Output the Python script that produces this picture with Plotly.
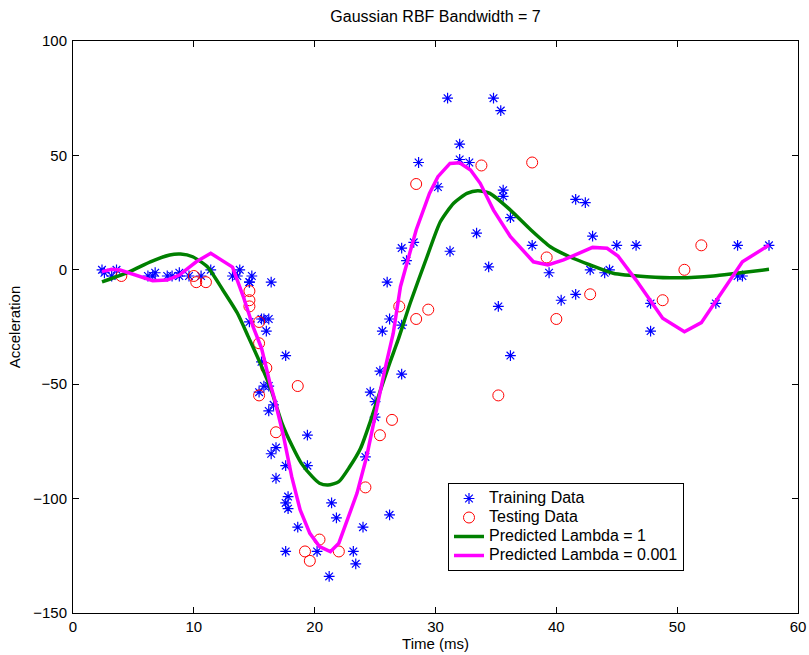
import plotly.graph_objects as go

# Training data (blue asterisks)
train_t = [2.4, 2.6, 3.2, 3.6, 6.2, 6.6, 6.8, 7.8, 8.2, 8.8, 8.8, 9.6, 10.6, 11.4, 13.2, 13.6, 13.8,
           14.6, 14.6, 14.6, 14.8, 15.4, 15.6, 15.6, 15.8, 15.8, 16.0, 16.2, 16.2, 16.2, 16.4, 16.4,
           16.6, 16.8, 16.8, 17.6, 17.6, 17.6, 17.6, 17.8, 17.8, 18.6, 19.4, 19.4, 20.2, 21.2, 21.4,
           21.8, 23.2, 23.4, 24.0, 24.2, 24.6, 25.0, 25.0, 25.4, 25.6, 26.0, 26.2, 26.2, 27.2, 27.2,
           27.2, 27.6, 28.2, 28.6, 30.2, 31.0, 31.2, 32.0, 32.0, 32.8, 33.4, 34.4, 34.8, 35.2, 35.4,
           35.6, 35.6, 36.2, 36.2, 38.0, 39.4, 40.4, 41.6, 41.6, 42.4, 42.8, 43.0, 44.0, 44.4, 45.0,
           46.6, 47.8, 47.8, 53.2, 55.0, 55.0, 55.4, 57.6]
train_a = [0.0, -1.3, -2.7, 0.0, -2.7, -2.7, -1.3, -2.7, -2.7, -1.3, -2.7, -2.7, -2.7, 0.0, -2.7, -2.7, 0.0,
           -5.4, -5.4, -22.8, -2.7, -53.5, -40.2, -21.5, -21.5, -50.8, -26.8, -21.5, -50.8, -61.7, -5.4, -80.4,
           -59.0, -91.1, -77.7, -37.5, -85.6, -123.1, -101.9, -99.1, -104.4, -112.5, -85.6, -72.3, -123.1, -134.0, -101.9,
           -108.4, -123.1, -128.5, -112.5, -81.8, -53.5, -64.4, -57.6, -44.3, -26.8, -5.4, -107.1, -21.5, -45.6, -24.2,
           9.5, 4.0, 12.0, 46.9, 36.2, 75.0, 8.1, 54.9, 48.2, 46.9, 16.0, 1.3, 75.0, -16.0, 69.6,
           34.8, 32.1, -37.5, 22.8, 10.7, -1.3, -13.3, 30.8, -10.7, 29.4, 0.0, 14.7, -1.3, 0.0, 10.7,
           10.7, -26.8, -14.7, -14.7, -2.7, 10.7, -2.7, 10.7]

# Testing data (red circles)
test_t = [4.0, 10.0, 10.2, 11.0, 14.6, 14.6, 14.6, 15.4, 15.4, 15.4, 16.0, 16.8, 18.6, 19.2, 19.6,
          20.4, 22.0, 24.2, 25.4, 26.4, 27.0, 28.4, 28.4, 29.4, 33.8, 35.2, 38.0, 39.2, 40.0, 42.8,
          48.8, 50.6, 52.0]
test_a = [-2.7, -2.7, -5.4, -5.4, -9.3, -13.3, -16.0, -22.8, -32.1, -54.9, -42.9, -71.0, -50.8, -123.1, -127.2,
          -117.9, -123.1, -95.1, -72.3, -65.6, -16.0, -21.5, 37.5, -17.4, 45.6, -54.9, 46.9, 5.4, -21.5, -10.7,
          -13.3, 0.0, 10.7]

# Predicted curve, lambda = 1 (green)
pred1_t = [2.4, 4.7, 6.4, 8.0, 8.9, 9.9, 11.1, 12.4, 13.6, 14.5, 15.5, 16.4, 17.3, 18.1, 18.9, 19.8,
           20.4, 21.1, 22.0, 22.9, 23.8, 24.6, 25.4, 26.2, 26.9, 27.9, 29.3, 30.4, 31.5, 32.6, 33.5,
           34.5, 36.2, 37.9, 39.5, 41.1, 42.8, 44.7, 47.5, 50.2, 53.0, 54.9, 57.6]
pred1_a = [-5.3, -0.8, 3.5, 6.5, 6.9, 5.7, 1.4, -8.8, -18.9, -29.2, -40.9, -52.5, -67.1, -76.6, -84.6, -90.4,
           -93.3, -94.1, -92.6, -86.1, -78.0, -66.4, -53.3, -40.9, -30.7, -14.6, 5.7, 21.0, 29.1, 33.4, 34.6,
           33.4, 26.1, 17.4, 10.1, 5.7, 2.1, -1.5, -3.0, -3.5, -2.7, -1.5, 0.2]

# Predicted curve, lambda = 0.001 (magenta)
pred2_t = [2.4, 3.2, 3.9, 6.6, 7.8, 8.8, 10.2, 11.4, 13.2, 14.1, 14.9, 15.6, 16.3, 16.7, 17.4, 18.1,
           18.8, 19.6, 20.4, 21.3, 22.0, 22.6, 23.5, 24.3, 25.1, 25.8, 26.5, 27.1, 28.4, 29.5, 30.2,
           31.2, 32.0, 32.9, 33.7, 34.8, 36.2, 38.1, 39.3, 40.6, 43.0, 44.2, 45.1, 46.6, 48.8, 50.6,
           52.0, 53.8, 55.4, 57.6]
pred2_a = [-0.8, 0.2, -0.1, -4.8, -4.5, -2.3, 3.5, 7.2, 1.2, -11.8, -24.9, -34.2, -49.5, -56.9, -72.2, -90.4,
           -105.0, -115.2, -121.0, -123.2, -119.5, -110.8, -97.7, -81.7, -61.3, -43.8, -27.8, -7.4, 17.4, 33.4, 40.7,
           46.5, 46.8, 43.6, 37.8, 26.1, 14.5, 3.5, 2.1, 4.3, 9.8, 9.4, 6.0, -4.5, -21.2, -27.1,
           -23.1, -8.8, 3.5, 10.8]

x_ticks = [0, 10, 20, 30, 40, 50, 60]
y_ticks = [-150, -100, -50, 0, 50, 100]

FONT = "Liberation Sans, Arial, Helvetica, sans-serif"


def leg(name):
    return f'<span style="font-size:16px">{name}</span>'


fig = go.Figure()
fig.add_trace(go.Scatter(x=train_t, y=train_a, mode="markers", name=leg("Training Data"),
                         marker=dict(symbol="asterisk-open", size=9, color="#0000FF",
                                     line=dict(color="#0000FF", width=1.2))))
fig.add_trace(go.Scatter(x=test_t, y=test_a, mode="markers", name=leg("Testing Data"),
                         marker=dict(symbol="circle-open", size=11, color="#FF0000",
                                     line=dict(color="#FF0000", width=1))))
fig.add_trace(go.Scatter(x=pred1_t, y=pred1_a, mode="lines", name=leg("Predicted Lambda = 1"),
                         line=dict(color="#008000", width=3.5, shape="spline", smoothing=0.6)))
fig.add_trace(go.Scatter(x=pred2_t, y=pred2_a, mode="lines", name=leg("Predicted Lambda = 0.001"),
                         line=dict(color="#FF00FF", width=3.5)))

axis_common = dict(showgrid=False, zeroline=False, showline=True, linecolor="black", linewidth=1,
                   mirror="ticks", ticks="inside", ticklen=6, tickcolor="black",
                   tickfont=dict(family=FONT, size=15, color="black"))

fig.update_layout(
    width=809, height=655,
    margin=dict(l=73, r=11, t=41, b=42, autoexpand=False),
    paper_bgcolor="white", plot_bgcolor="white",
    font=dict(family=FONT, size=15, color="black"),
    title=dict(text="Gaussian RBF Bandwidth = 7", x=(73 + 798) / 2 / 809, xanchor="center",
               y=1 - 16.5 / 655, yanchor="middle", font=dict(family=FONT, size=16)),
    xaxis=dict(range=[0, 60], tickvals=x_ticks, ticklabelstandoff=0,
               title=dict(text="Time (ms)", font=dict(family=FONT, size=15), standoff=4), **axis_common),
    yaxis=dict(range=[-150, 100], tickvals=y_ticks, ticklabelstandoff=2,
               title=dict(text="Acceleration", font=dict(family=FONT, size=15), standoff=8), **axis_common),
    legend=dict(x=(448 - 73) / 725, y=(613 - 483) / 572, xanchor="left", yanchor="top",
                bgcolor="white", bordercolor="black", borderwidth=1,
                font=dict(family=FONT, size=12), tracegroupgap=0, itemwidth=30),
    showlegend=True,
)

fig.write_html("out.html")
